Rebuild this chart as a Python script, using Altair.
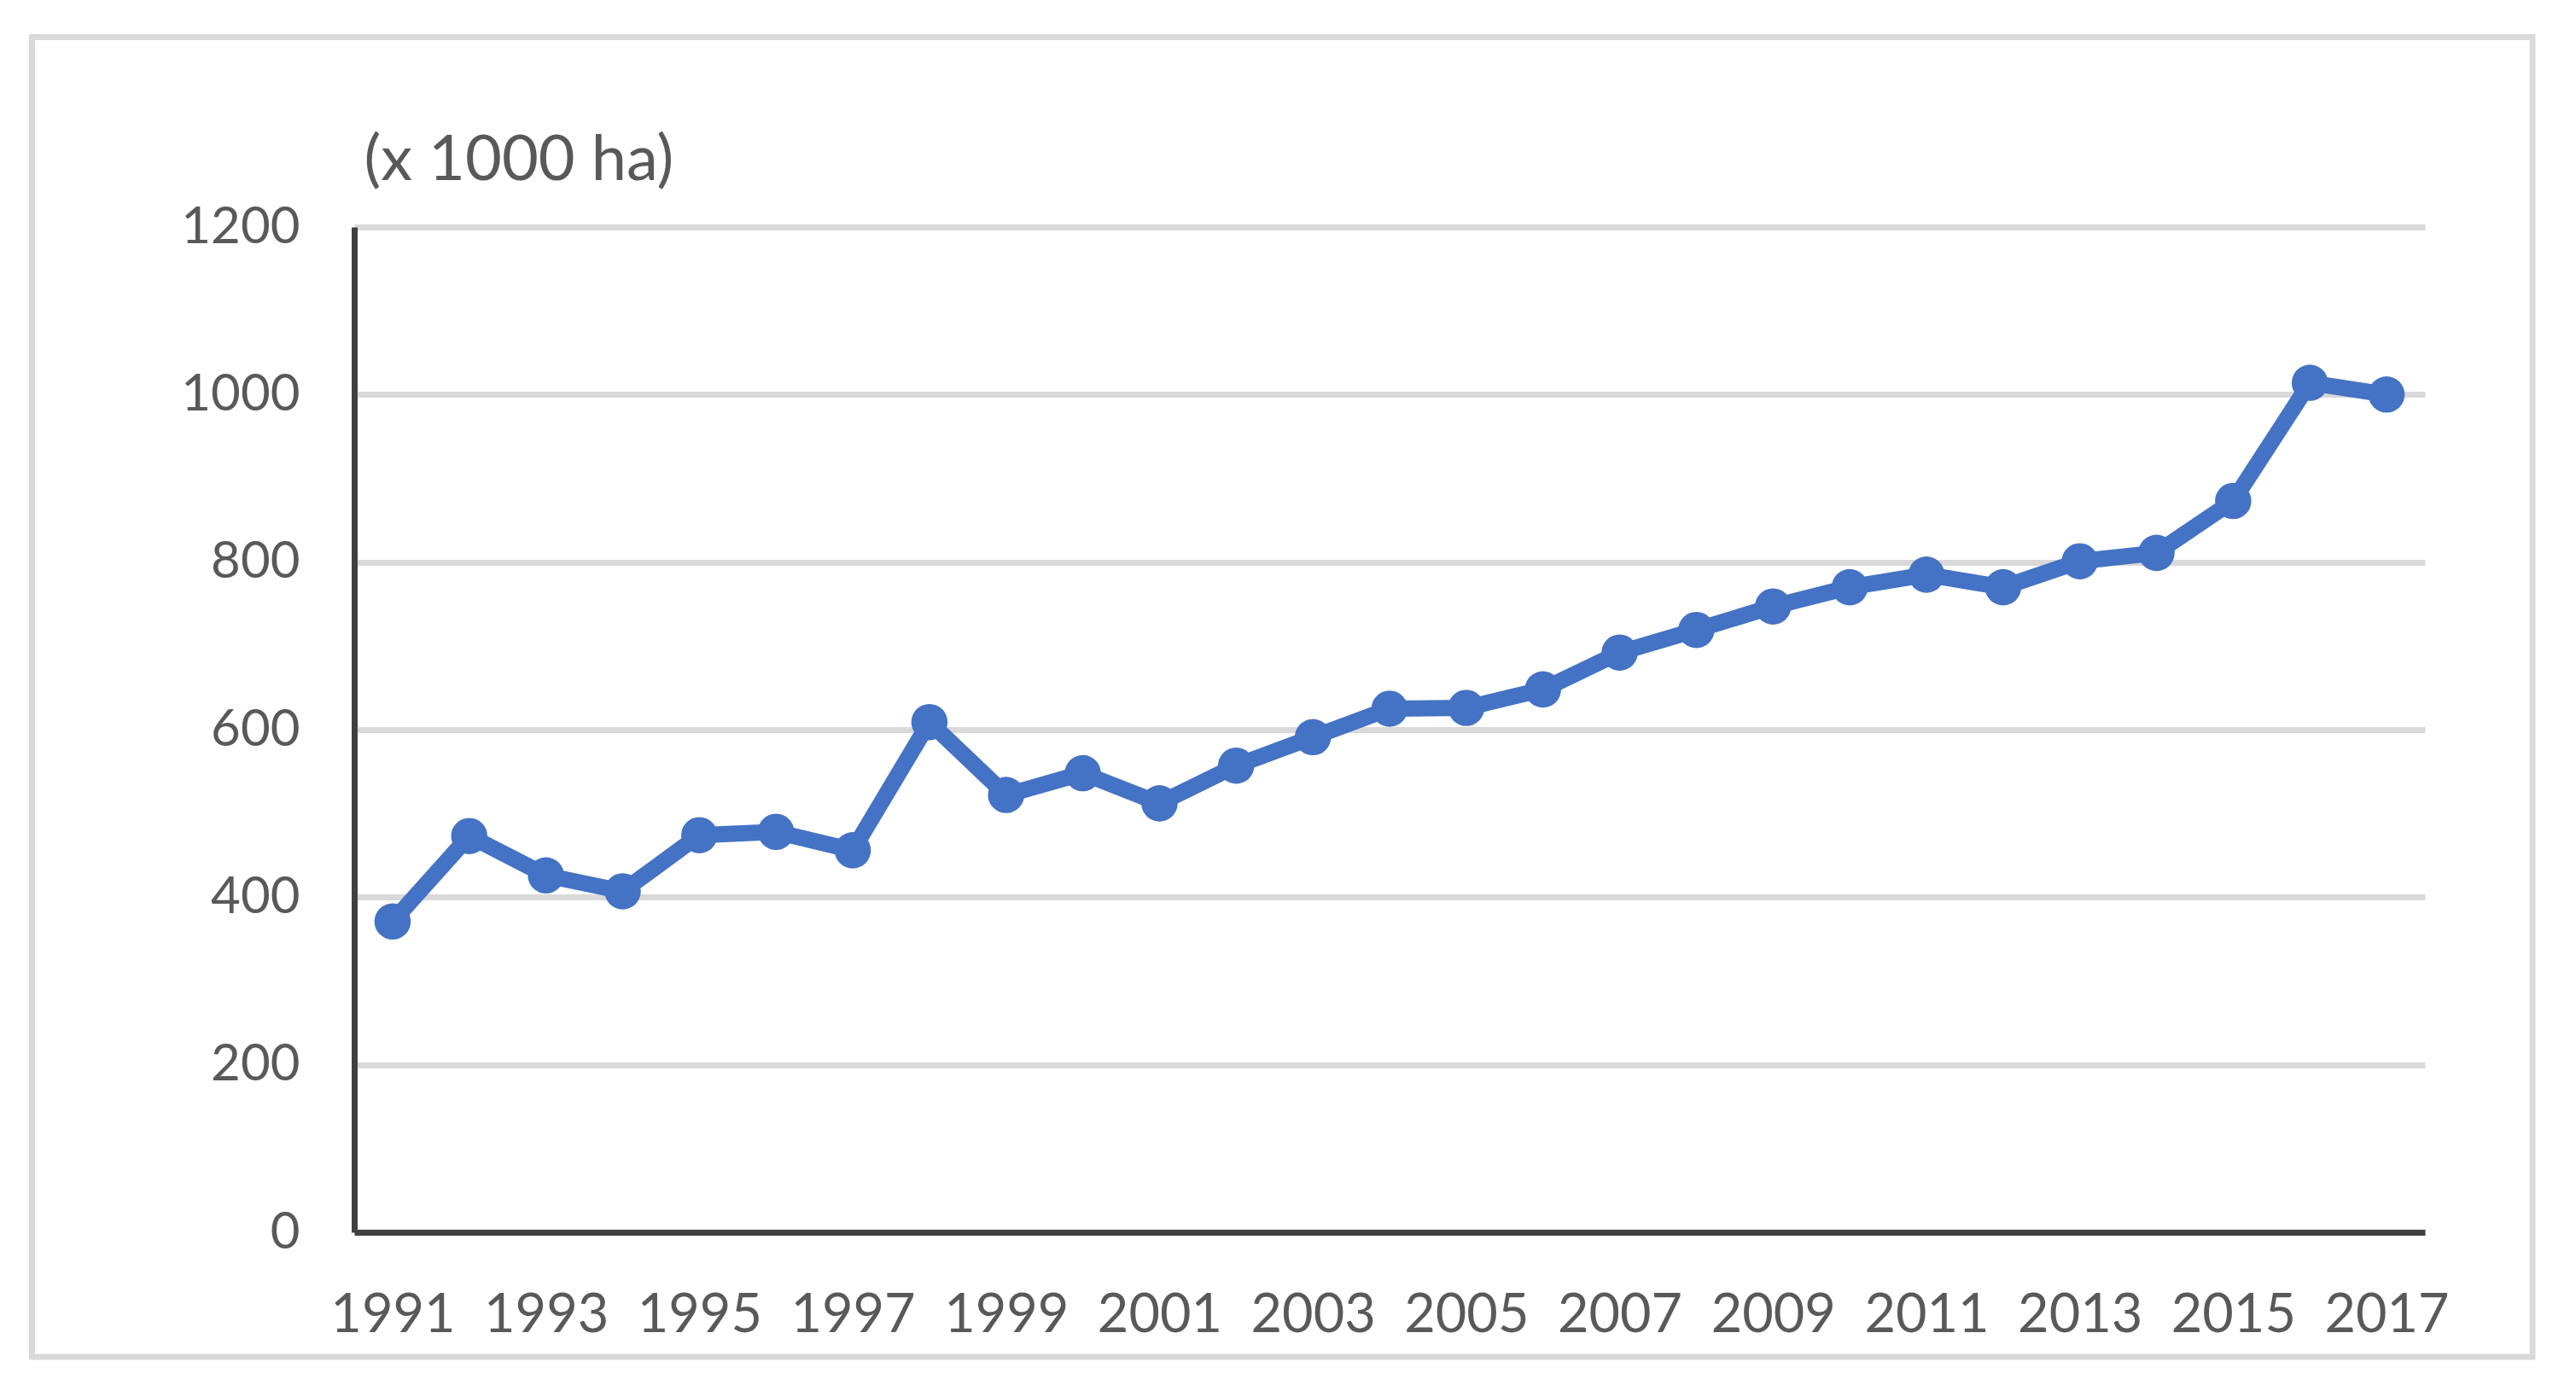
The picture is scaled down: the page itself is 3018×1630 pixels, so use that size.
import altair as alt
import pandas as pd

years = list(range(1991, 2018))
values = [371, 473, 426, 407, 474, 478, 456, 609, 522, 548, 512,
          557, 591, 625, 626, 648, 692, 719, 747, 770, 785, 770,
          801, 811, 873, 1014, 1000]
x_tick_years = [y for y in years if y % 2 == 1]
y_ticks = [0, 200, 400, 600, 800, 1000, 1200]
y_title = "(x 1000 ha)"

df = pd.DataFrame({"year": years, "area": values})

FONT = "Lato"
TEXT = "#595959"
BLUE = "#4472C4"

x_enc = alt.X("year:O",
              scale=alt.Scale(type="point", padding=0.5),
              axis=alt.Axis(values=x_tick_years, labelAngle=0, ticks=False,
                            labelPadding=66, labelFontSize=63, labelFont=FONT,
                            labelColor=TEXT, labelOverlap=False,
                            domainColor="#404040", domainWidth=7,
                            grid=False, title=None))
y_enc = alt.Y("area:Q",
              scale=alt.Scale(domain=[0, 1200], nice=False),
              axis=alt.Axis(values=y_ticks, format="d", ticks=False, labelPadding=64,
                            labelFontSize=60, labelFont=FONT, labelColor=TEXT,
                            domainColor="#404040", domainWidth=7,
                            grid=True, gridColor="#D9D9D9", gridWidth=7,
                            title=y_title, titleAngle=0, titleAlign="left",
                            titleBaseline="alphabetic", titleX=11, titleY=-56,
                            titleFont=FONT, titleFontSize=74,
                            titleFontWeight="normal", titleColor=TEXT))

base = alt.Chart(df)
line = base.mark_line(color=BLUE, strokeWidth=19).encode(x=x_enc, y=y_enc)
pts = base.mark_circle(color=BLUE, size=1810, opacity=1).encode(x="year:O", y="area:Q")

frame = alt.Chart(pd.DataFrame({"a": [0]})).mark_rect(
    fillOpacity=0, stroke="#D9D9D9", strokeWidth=7
).encode(x=alt.value(-377.5), x2=alt.value(2552),
         y=alt.value(-222.5), y2=alt.value(1324))

chart = alt.layer(frame, line, pts).properties(
    width=2426, height=1178,
    padding={"left": 407, "top": 258, "right": 169, "bottom": 178},
    autosize=alt.AutoSizeParams(type="none"),
    background="white",
).configure_view(strokeWidth=0)

chart.save("out.html", embed_options={"renderer": "svg", "actions": False})
